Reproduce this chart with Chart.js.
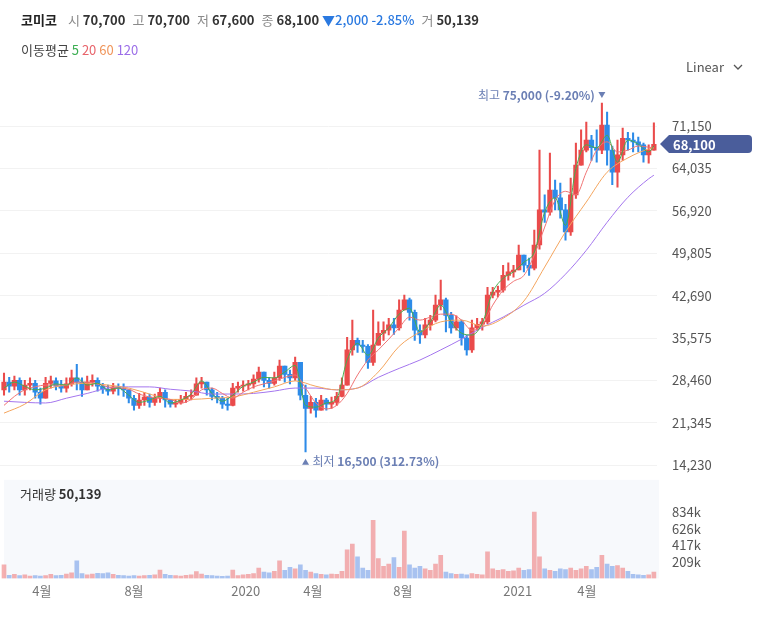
<!DOCTYPE html>
<html>
<head>
<meta charset="utf-8">
<script src="https://cdn.jsdelivr.net/npm/chart.js@4.4.1/dist/chart.umd.min.js"></script>
<style>
  body { margin: 0; background: #fff; font-family: 'Noto Sans CJK KR', 'Noto Sans', sans-serif; }
  #wrap { position: relative; width: 765px; height: 621px; overflow: hidden; }
  canvas { position: absolute; left: 0; }
  .txt { position: absolute; white-space: nowrap; font-size: 13px; line-height: 16px; color: #222; z-index: 2; }
  .txt b { font-weight: 700; color: #333; }
  .k { color: #8a8a8a; margin: 0 3px 0 7px; }
  .dn { color: #2a79e0; }
</style>
</head>
<body>
<div id="wrap">
  <canvas id="price" width="765" height="489" style="top:0"></canvas>
  <canvas id="volume" width="765" height="136" style="top:469px"></canvas>

  <div class="txt" style="left:21px;top:12px">
    <b style="color:#222">코미코</b><span class="k" style="margin-left:11px">시</span><b>70,700</b><span class="k">고</span><b>70,700</b><span class="k">저</span><b>67,600</b><span class="k">종</span><b>68,100</b> <span class="dn">▼<b style="color:#2a79e0;font-weight:500">2,000 -2.85%</b></span><span class="k">거</span><b>50,139</b>
  </div>
  <div class="txt" style="left:21px;top:42px;color:#444">
    이동평균 <span style="color:#3cae52">5</span> <span style="color:#e8646b">20</span> <span style="color:#f0955a">60</span> <span style="color:#9b6ee8">120</span>
  </div>
  <div class="txt" style="left:686px;top:59px;color:#555">Linear
    <svg width="10" height="7" style="margin-left:6px;vertical-align:1px"><polyline points="1,1 5,5 9,1" fill="none" stroke="#555" stroke-width="1.3"/></svg>
  </div>
  <div class="txt" style="left:20px;top:486px;color:#333">거래량 <b>50,139</b></div>
</div>

<script>
// weekly candles, week 0 = 2019-02-11
const X_TICK_WEEKS = [7.3, 25, 46.5, 59.4, 76.7, 98.8, 112.1];
const X_TICK_LABELS = ['4월', '8월', '2020', '4월', '8월', '2021', '4월'];
const PRICE_TICKS = [14230, 21345, 28460, 35575, 42690, 49805, 56920, 64035, 71150];
const VOL_TICKS = [208500, 417000, 625500, 834000];
const VOL_TICK_LABELS = ['209k', '417k', '626k', '834k'];

const OPEN = [
  26900, 28200, 27500, 28500, 26900, 27700, 28000, 26500, 25500, 28000,
  28400, 27500, 27200, 27900, 28900, 28200, 26900, 28200, 28500, 27500,
  27000, 26700, 27400, 27200, 26900, 25500, 24300, 25200, 25700, 24800,
  25500, 26500, 25200, 24500, 24700, 25300, 25800, 26000, 27900, 28200,
  26900, 25800, 25500, 24500, 24300, 27200, 27500, 27700, 27900, 28700,
  29900, 28500, 28000, 28900, 30900, 29500, 28900, 31500, 26000, 23800,
  24800, 23500, 25200, 24500, 24800, 25800, 27700, 33600, 35200, 34400,
  34200, 31500, 34400, 36400, 36900, 37800, 37300, 40300, 42000, 39900,
  36900, 36100, 37800, 38600, 41100, 42000, 39400, 37300, 38300, 35600,
  33600, 37300, 37900, 38300, 42800, 43300, 43600, 46100, 46700, 47000,
  49500, 47800, 47300, 51200, 57100, 56700, 60400, 59100, 57100, 53400,
  59600, 64600, 67100, 68800, 67500, 67100, 71300, 67100, 63400, 66300,
  69100, 68800, 68500, 68000, 66300, 67100
];
const HIGH = [
  29700, 29000, 29200, 28900, 28500, 28900, 28500, 27200, 29000, 29200,
  28900, 28500, 28900, 30200, 31200, 28900, 29200, 29400, 28900, 28000,
  27700, 28000, 27900, 27900, 26900, 26000, 26300, 26500, 26200, 26200,
  27200, 26900, 25300, 25300, 26000, 26500, 26900, 28900, 29000, 28200,
  27200, 26500, 25800, 25500, 28000, 28200, 28400, 28500, 29400, 30700,
  29900, 29000, 29900, 31900, 30900, 30200, 32400, 31500, 27700, 25800,
  25500, 26000, 25500, 25700, 26500, 28900, 35700, 38600, 35600, 35200,
  34500, 40300, 38300, 38300, 38900, 38900, 42000, 42800, 42300, 40300,
  37800, 38900, 39400, 42800, 45300, 42300, 39900, 39300, 38600, 36100,
  38600, 38900, 38900, 44100, 44100, 44300, 47800, 48200, 47800, 51200,
  49500, 49000, 53700, 67100, 59600, 66600, 62100, 61600, 58000, 62400,
  68300, 70500, 71800, 69600, 70500, 75000, 73500, 67800, 68800, 70800,
  70100, 70000, 69300, 68300, 68000, 71700
];
const LOW = [
  26000, 26500, 26900, 26000, 26000, 26900, 25500, 24500, 25500, 27200,
  26900, 26500, 26500, 27500, 26900, 25800, 26900, 27500, 26700, 26300,
  26000, 26200, 26000, 25800, 24700, 23500, 23800, 24300, 24000, 24300,
  24800, 24000, 24000, 24000, 24500, 24800, 25200, 26000, 27200, 26000,
  25200, 24700, 23800, 23500, 24200, 26500, 26700, 26900, 27200, 28200,
  27400, 27200, 27700, 28500, 28200, 27900, 28500, 25200, 16500, 23000,
  22300, 23500, 23500, 23800, 24300, 25700, 27700, 32700, 33200, 33200,
  30500, 31000, 34400, 35200, 36100, 36200, 36900, 40300, 38600, 35200,
  34700, 35600, 36900, 38300, 40300, 36600, 36400, 36900, 34400, 32700,
  33200, 36900, 36900, 38000, 42300, 42500, 43300, 45300, 45800, 47000,
  46700, 46100, 47000, 50500, 55000, 56200, 57100, 55700, 52000, 52800,
  59000, 64600, 66800, 65400, 65100, 66500, 64600, 61300, 60900, 65400,
  67100, 66800, 66800, 65100, 64900, 67100
];
const CLOSE = [
  28200, 27500, 28500, 26900, 27700, 28000, 26500, 25500, 28000, 28400,
  27500, 27200, 27900, 28900, 28200, 26900, 28200, 28500, 27500, 27000,
  26700, 27400, 27200, 26900, 25500, 24300, 25200, 25700, 24800, 25500,
  26500, 25200, 24500, 24700, 25300, 25800, 26000, 27900, 28200, 26900,
  25800, 25500, 24500, 24300, 27200, 27500, 27700, 27900, 28700, 29900,
  28500, 28000, 28900, 30900, 29500, 28900, 31500, 26000, 23800, 24800,
  23500, 25200, 24500, 24800, 25800, 27700, 33600, 35200, 34400, 34200,
  31500, 34400, 36400, 36900, 37800, 37300, 40300, 42000, 39900, 36900,
  36100, 37800, 38600, 41100, 42000, 39400, 37300, 38300, 35600, 33600,
  37300, 37900, 38300, 42800, 43300, 43600, 46100, 46700, 47000, 49500,
  47800, 47300, 51200, 57100, 56700, 60400, 59100, 57100, 53400, 59600,
  64600, 67100, 68800, 67500, 67100, 71300, 67100, 63400, 66300, 69100,
  68800, 68500, 68000, 66300, 67100, 68100
];
const VOLUME = [
  170000, 40000, 50000, 35000, 45000, 30000, 35000, 30000, 35000, 50000,
  35000, 40000, 55000, 70000, 220000, 60000, 45000, 55000, 65000, 60000,
  70000, 50000, 40000, 35000, 30000, 35000, 30000, 35000, 40000, 45000,
  105000, 50000, 40000, 35000, 30000, 40000, 45000, 85000, 55000, 40000,
  35000, 30000, 25000, 30000, 105000, 35000, 45000, 50000, 60000, 130000,
  80000, 70000, 90000, 220000, 100000, 140000, 120000, 170000, 100000, 80000,
  60000, 50000, 45000, 55000, 50000, 90000, 360000, 430000, 270000, 130000,
  100000, 730000, 250000, 150000, 180000, 260000, 140000, 595000, 170000, 130000,
  150000, 120000, 100000, 180000, 290000, 80000, 60000, 50000, 55000, 45000,
  60000, 50000, 45000, 335000, 120000, 100000, 110000, 90000, 95000, 130000,
  100000, 110000, 834000, 270000, 120000, 100000, 90000, 120000, 110000, 130000,
  100000, 120000, 150000, 110000, 140000, 290000, 180000, 150000, 160000, 130000,
  90000, 50000, 45000, 40000, 45000, 80000
];

// moving averages
const MA_SHORT_WEEKS = [
  0, 2, 4, 6, 8, 10, 12, 14, 16, 18, 20, 22, 24, 26, 28, 30, 32, 34, 36, 38,
  40, 42, 44, 46, 48, 50, 52, 54, 56, 58, 60, 62, 64, 66, 68, 70, 72, 74, 76, 78,
  80, 82, 84, 86, 88, 90, 92, 94, 96, 98, 100, 102, 104, 106, 108, 110, 112, 114, 116, 118,
  120, 122, 124, 125
];
const MA5 = [
  27200, 28200, 27500, 26900, 27200, 27900, 27700, 28900, 27700, 28000,
  26900, 27200, 26000, 24800, 25200, 25800, 24700, 25200, 26200, 28400,
  26300, 25000, 26000, 27500, 28200, 29000, 28900, 29900, 31000, 24300,
  24000, 24700, 25500, 31900, 34700, 32700, 35600, 37300, 39600, 40600,
  36600, 38300, 41100, 38300, 36400, 36100, 38100, 43300, 45600, 46700,
  48300, 50000, 56700, 59100, 54500, 64000, 68000, 67500, 69600, 65100,
  68800, 68100, 66800, 67800
];
const MA20 = [
  24300, 25800, 26900, 27400, 27700, 27700, 27700, 28200, 28200, 27900,
  27400, 27200, 27000, 26200, 25700, 25500, 25300, 24700, 25300, 26900,
  27200, 26300, 25500, 26500, 27400, 27900, 28400, 29000, 29400, 27200,
  24700, 23700, 24300, 26300, 29400, 31900, 33600, 35400, 37300, 39100,
  38600, 39100, 39600, 39600, 38600, 36900, 37800, 41100, 43600, 45100,
  46100, 49500, 54200, 58700, 60200, 59600, 63400, 67100, 68500, 66800,
  67100, 67800, 67600, 67500
];
const MA_LONG_WEEKS = [
  0, 4, 8, 12, 16, 20, 24, 28, 32, 36, 40, 44, 48, 52, 56, 60, 64,
  68, 72, 76, 80, 84, 88, 92, 96, 100, 104, 108, 112, 116, 120, 124, 125
];
const MA60 = [
  23000, 24500, 26900, 27700, 28000, 27700, 27200, 26200, 25300, 25300,
  25500, 25700, 26500, 27400, 28400, 27500, 26900, 27200, 29900, 34200,
  36600, 38300, 38600, 37600, 38900, 41800, 47500, 53400, 58400, 63400,
  65800, 67300, 67500
];
const MA120 = [
  25000, 24800, 24700, 25500, 26300, 27200, 27400, 27400, 27000, 26700,
  26200, 26200, 26300, 26700, 27200, 27200, 26900, 27200, 29000, 30500,
  31900, 33600, 35400, 37400, 39100, 41100, 43100, 46300, 50300, 55000,
  59200, 62300, 62900
];

const FONT = "'Noto Sans CJK KR', 'Noto Sans', sans-serif";
const RED = '#ea4b4b';
const BLUE = '#2d8be8';
const X_MIN = -0.77, X_MAX = 125.6;

const weeks = CLOSE.map((_, i) => i);
const isUp = weeks.map(i => CLOSE[i] >= OPEN[i]);
const candleColors = isUp.map(u => u ? RED : BLUE);
const volColors = isUp.map(u => u ? 'rgba(238,100,100,0.5)' : 'rgba(90,140,228,0.5)');
const fmt = v => v.toLocaleString('en-US');

function maLine(label, xs, ys, color, order) {
    return {
        type: 'line',
        label,
        data: xs.map((w, i) => ({ x: w, y: ys[i] })),
        borderColor: color,
        borderWidth: 1,
        pointRadius: 0,
        cubicInterpolationMode: 'monotone',
        order,
    };
}

function drawParts(ctx, parts, x, y) {
    parts.forEach(([t, w]) => {
        ctx.font = `${w} 12px ${FONT}`;
        ctx.fillText(t, x, y);
        x += ctx.measureText(t).width;
    });
}
function partsWidth(ctx, parts) {
    return parts.reduce((s, [t, w]) => { ctx.font = `${w} 12px ${FONT}`; return s + ctx.measureText(t).width; }, 0);
}

// right axis: labels pushed out by an invisible tick, small padding so the plot keeps its height
const rightAxis = (extra) => Object.assign({
    position: 'right',
    afterFit: s => { s.width = 108; },
    border: { display: false },
}, extra);

// high / low markers and the last-price tag
const markPlugin = {
    id: 'marks',
    afterDraw(chart) {
        const { ctx, scales: { x, y } } = chart;
        const last = CLOSE[CLOSE.length - 1];
        const hi = Math.max(...HIGH), hiW = HIGH.indexOf(hi);
        const lo = Math.min(...LOW), loW = LOW.indexOf(lo);

        ctx.save();
        ctx.textBaseline = 'middle';
        ctx.textAlign = 'left';
        ctx.fillStyle = '#6b7fb4';

        // high
        let px = x.getPixelForValue(hiW), py = y.getPixelForValue(hi) - 8;
        ctx.beginPath();
        ctx.moveTo(px - 3.5, py - 3); ctx.lineTo(px + 3.5, py - 3); ctx.lineTo(px, py + 3);
        ctx.fill();
        const hiParts = [['최고 ', 400], [fmt(hi) + ' (' + ((last - hi) / hi * 100).toFixed(2) + '%)', 700]];
        drawParts(ctx, hiParts, px - 7 - partsWidth(ctx, hiParts), py);

        // low
        px = x.getPixelForValue(loW); py = y.getPixelForValue(lo) + 10;
        ctx.beginPath();
        ctx.moveTo(px - 3.5, py + 3); ctx.lineTo(px + 3.5, py + 3); ctx.lineTo(px, py - 3);
        ctx.fill();
        drawParts(ctx, [['최저 ', 400], [fmt(lo) + ' (' + ((last - lo) / lo * 100).toFixed(2) + '%)', 700]], px + 7, py);

        // last price tag
        const ty = Math.round(y.getPixelForValue(last)), tx = chart.chartArea.right + 3;
        ctx.fillStyle = '#4a5d9b';
        ctx.beginPath();
        ctx.moveTo(tx, ty);
        ctx.lineTo(tx + 9, ty - 9);
        ctx.lineTo(tx + 88, ty - 9);
        ctx.quadraticCurveTo(tx + 92, ty - 9, tx + 92, ty - 5);
        ctx.lineTo(tx + 92, ty + 5);
        ctx.quadraticCurveTo(tx + 92, ty + 9, tx + 88, ty + 9);
        ctx.lineTo(tx + 9, ty + 9);
        ctx.closePath();
        ctx.fill();
        ctx.fillStyle = '#fff';
        ctx.font = `700 13px ${FONT}`;
        ctx.fillText(fmt(last), tx + 13, ty + 1);
        ctx.restore();
    }
};

new Chart(document.getElementById('price'), {
    type: 'bar',
    data: {
        datasets: [
            maLine('MA5', MA_SHORT_WEEKS, MA5, '#46ad4e', 1),
            maLine('MA20', MA_SHORT_WEEKS, MA20, '#f07474', 2),
            maLine('MA60', MA_LONG_WEEKS, MA60, '#f4a55e', 3),
            maLine('MA120', MA_LONG_WEEKS, MA120, '#a476ee', 4),
            {
                label: 'body',
                data: weeks.map(i => ({ x: i, y: [OPEN[i], CLOSE[i]] })),
                backgroundColor: candleColors,
                barThickness: 4.6,
                minBarLength: 1,
                grouped: false,
                order: 9,
            },
            {
                label: 'wick',
                data: weeks.map(i => ({ x: i, y: [LOW[i], HIGH[i]] })),
                backgroundColor: candleColors,
                barThickness: 1.4,
                grouped: false,
                order: 10,
            },
        ]
    },
    options: {
        responsive: false,
        animation: false,
        layout: { padding: { top: 80, bottom: 0, left: 0, right: 0 } },
        plugins: { legend: { display: false }, tooltip: { enabled: false } },
        scales: {
            x: { type: 'linear', min: X_MIN, max: X_MAX, offset: false, display: false },
            y: rightAxis({
                min: 12084,
                max: 78869,
                afterBuildTicks: s => { s.ticks = PRICE_TICKS.map(v => ({ value: v })); },
                grid: { color: '#f2f2f2', drawTicks: true, tickLength: 12, tickColor: 'rgba(0,0,0,0)' },
                ticks: {
                    padding: 3,
                    color: '#555',
                    font: { size: 13, family: FONT },
                    callback: v => fmt(v),
                },
            }),
        },
    },
    plugins: [markPlugin],
});

const panelBg = {
    id: 'panelBg',
    beforeDraw(chart) {
        const a = chart.chartArea, c = chart.ctx;
        c.save();
        c.fillStyle = '#f7f9fc';
        c.fillRect(a.left + 4, a.top, a.right - a.left - 2, a.bottom - a.top);
        c.restore();
    }
};

new Chart(document.getElementById('volume'), {
    type: 'bar',
    data: {
        datasets: [{
            label: 'volume',
            data: weeks.map(i => ({ x: i, y: VOLUME[i] })),
            backgroundColor: volColors,
            barThickness: 4,
        }]
    },
    options: {
        responsive: false,
        animation: false,
        layout: { padding: { top: 0, bottom: 1, left: 0, right: 0 } },
        plugins: { legend: { display: false }, tooltip: { enabled: false } },
        scales: {
            x: {
                type: 'linear',
                min: X_MIN,
                max: X_MAX,
                offset: false,
                afterBuildTicks: s => { s.ticks = X_TICK_WEEKS.map(v => ({ value: v })); },
                grid: { display: false, drawTicks: false },
                border: { display: false },
                ticks: {
                    padding: 5,
                    color: '#777',
                    maxRotation: 0,
                    autoSkip: false,
                    font: { size: 13, family: FONT },
                    callback: (v, i) => X_TICK_LABELS[i],
                },
            },
            y: rightAxis({
                min: 0,
                max: 1238000,
                afterBuildTicks: s => { s.ticks = VOL_TICKS.map(v => ({ value: v })); },
                grid: { display: false, drawTicks: true, tickLength: 12, tickColor: 'rgba(0,0,0,0)' },
                ticks: {
                    padding: 3,
                    color: '#555',
                    font: { size: 13, family: FONT },
                    callback: (v, i) => VOL_TICK_LABELS[i],
                },
            }),
        },
    },
    plugins: [panelBg],
});
</script>
</body>
</html>
